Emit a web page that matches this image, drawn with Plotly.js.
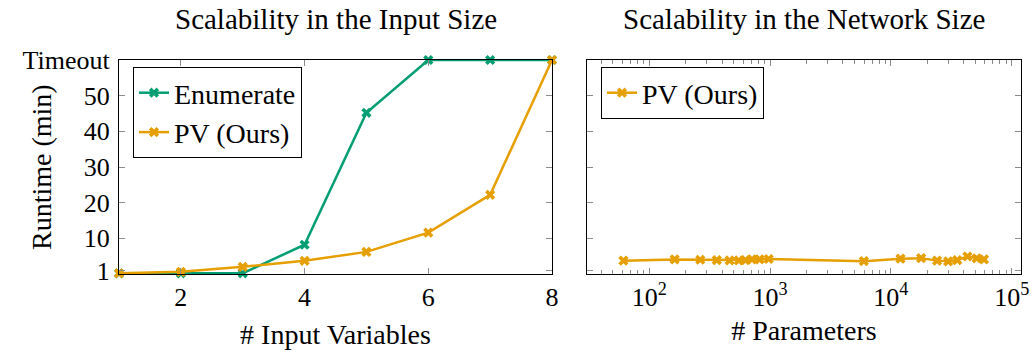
<!DOCTYPE html>
<html>
<head>
<meta charset="utf-8">
<script src="https://cdn.plot.ly/plotly-3.0.1.min.js"></script>
<style>html,body{margin:0;padding:0;background:#fff;}#chart{width:1033px;height:356px;}</style>
</head>
<body>
<div id="chart"></div>
<script>
// Left panel: scalability in the input size
const inputVars = [1, 2, 3, 4, 5, 6, 7, 8];
const enumerateRuntime = [0.2, 0.2, 0.2, 8.2, 45.2, 60, 60, 60];
const pvInputRuntime = [0.2, 0.6, 2.0, 3.7, 6.2, 11.6, 22.2, 60];

// Right panel: scalability in the network size
const numParams = [61, 162, 264, 362, 462, 550, 624, 708, 818, 973, 5970, 12000, 17800, 24100, 29800, 35400, 43000, 51300, 59000];
const pvNetRuntime = [3.75, 4.1, 4.0, 3.9, 3.8, 3.8, 3.9, 4.1, 4.1, 4.2, 3.6, 4.3, 4.45, 3.75, 3.55, 3.9, 4.9, 4.4, 4.1];

// Tick labels
const yTickVals = [1, 10, 20, 30, 40, 50, 60];
const yTickText = ["1", "10", "20", "30", "40", "50", "Timeout"];
const xTickVals = [2, 4, 6, 8];
const paramTickVals = [100, 1000, 10000, 100000];
const paramTickText = ["10<sup>2</sup>", "10<sup>3</sup>", "10<sup>4</sup>", "10<sup>5</sup>"];

const GREEN = "#009E73";
const ORANGE = "#E69F00";
const FONT = "Liberation Serif";

const W = 1033, H = 356;
const px = v => v / W;
const py = v => 1 - v / H;

// minor log ticks (2..9 times each decade)
const minorVals = [];
[10, 100, 1000, 10000].forEach(d => { for (let k = 2; k <= 9; k++) minorVals.push(k * d); });

const mk = (color) => ({symbol: "x", size: 9, color: color, line: {width: 0}});
const f = (size) => ({family: FONT, size: size, color: "#000"});

const traces = [
  {x: inputVars, y: enumerateRuntime, name: "Enumerate", type: "scatter", mode: "lines+markers",
   line: {color: GREEN, width: 2.5}, marker: mk(GREEN), xaxis: "x", yaxis: "y", legend: "legend", cliponaxis: false},
  {x: inputVars, y: pvInputRuntime, name: "PV (Ours)", type: "scatter", mode: "lines+markers",
   line: {color: ORANGE, width: 2.5}, marker: mk(ORANGE), xaxis: "x", yaxis: "y", legend: "legend", cliponaxis: false},
  {x: numParams, y: pvNetRuntime, name: "PV (Ours)", type: "scatter", mode: "lines+markers",
   line: {color: ORANGE, width: 2.5}, marker: mk(ORANGE), xaxis: "x2", yaxis: "y2", legend: "legend2", cliponaxis: false}
];

const yDomain = [py(274), py(60)];
const tickCol = "#8c8c8c";

const layout = {
  width: W, height: H,
  margin: {l: 0, r: 0, t: 0, b: 0},
  paper_bgcolor: "#fff", plot_bgcolor: "#fff",
  font: f(26),
  showlegend: true,
  xaxis: {
    domain: [px(119), px(552)], range: [1, 8], anchor: "y",
    tickvals: xTickVals, ticks: "inside", ticklen: 6, tickcolor: tickCol, tickwidth: 1,
    showline: true, linecolor: "#000", linewidth: 1, mirror: "allticks",
    showgrid: false, zeroline: false, tickfont: f(26),
    title: {text: "# Input Variables", font: f(28), standoff: 13}
  },
  yaxis: {
    domain: yDomain, range: [0, 60], anchor: "x",
    tickvals: yTickVals, ticktext: yTickText, ticks: "inside", ticklen: 6, tickcolor: tickCol, tickwidth: 1,
    showline: true, linecolor: "#000", linewidth: 1, mirror: "allticks",
    showgrid: false, zeroline: false, tickfont: f(26), ticklabelstandoff: 3
  },
  xaxis2: {
    domain: [px(587), px(1021)], type: "log", range: [1.484, 5.077], anchor: "y2",
    tickvals: paramTickVals, ticktext: paramTickText, ticklabeloverflow: "allow",
    ticks: "inside", ticklen: 6, tickcolor: tickCol, tickwidth: 1,
    minor: {tickmode: "array", tickvals: minorVals, ticks: "inside", ticklen: 4, tickcolor: tickCol, tickwidth: 1, showgrid: false},
    showline: true, linecolor: "#000", linewidth: 1, mirror: "allticks",
    showgrid: false, zeroline: false, tickfont: f(26),
    title: {text: "# Parameters", font: f(28), standoff: 9}
  },
  yaxis2: {
    domain: yDomain, range: [0, 60], anchor: "x2",
    tickvals: yTickVals, ticks: "inside", ticklen: 6, tickcolor: tickCol, tickwidth: 1,
    showticklabels: false,
    showline: true, linecolor: "#000", linewidth: 1, mirror: "allticks",
    showgrid: false, zeroline: false
  },
  legend: {
    x: px(133), y: py(67), xanchor: "left", yanchor: "top",
    bgcolor: "#fff", bordercolor: "#000", borderwidth: 1,
    font: f(28), tracegroupgap: 0
  },
  legend2: {
    x: px(601), y: py(67), xanchor: "left", yanchor: "top",
    bgcolor: "#fff", bordercolor: "#000", borderwidth: 1,
    font: f(28)
  },
  annotations: [
    {text: "Scalability in the Input Size", xref: "paper", yref: "paper", x: px(335.5), y: py(19),
     xanchor: "center", yanchor: "middle", showarrow: false, font: f(29)},
    {text: "Scalability in the Network Size", xref: "paper", yref: "paper", x: px(804), y: py(19),
     xanchor: "center", yanchor: "middle", showarrow: false, font: f(29)},
    {text: "Runtime (min)", xref: "paper", yref: "paper", x: px(41), y: py(167), textangle: -90,
     xanchor: "center", yanchor: "middle", showarrow: false, font: f(28)}
  ]
};

Plotly.newPlot("chart", traces, layout, {displayModeBar: false, staticPlot: true});
</script>
</body>
</html>
